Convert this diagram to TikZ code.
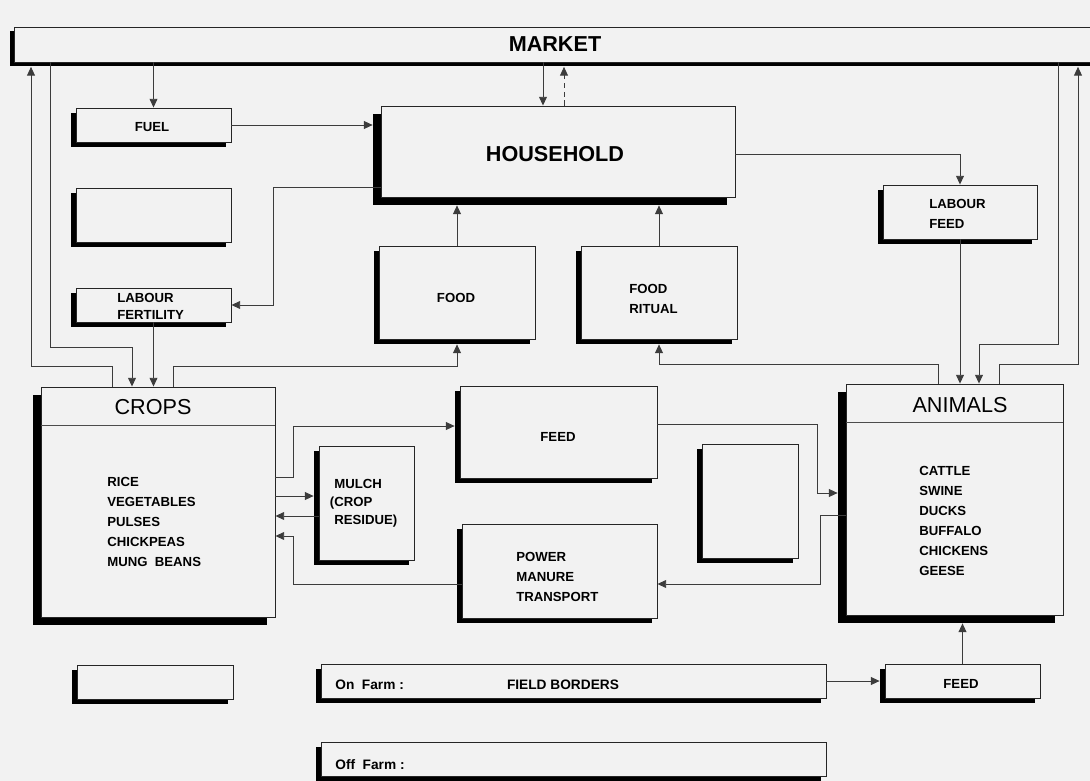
\documentclass[tikz,border=0pt]{standalone}
\usepackage{fontspec}
\setmainfont{Liberation Sans}
\usetikzlibrary{arrows.meta,calc,shadows}
\definecolor{bg}{RGB}{242,242,242}
\definecolor{ln}{RGB}{60,60,60}
\newcommand\mybx[6][2.8pt]{%
  \node[box=#1, minimum width={(#4-#2)*0.02cm}, minimum height={(#5-#3)*0.02cm}] (#6) at ({(#2+#4)/2},{(#3+#5)/2}) {};}
\begin{document}
\begin{tikzpicture}[x=0.02cm,y=-0.02cm,
  box/.style={draw=black!85, line width=0.5pt, fill=bg, inner sep=0pt,
    general shadow={fill=black, shadow xshift=-#1, shadow yshift=-#1}},
  box/.default=2.8pt,
  con/.style={draw=ln, line width=0.55pt, -{Triangle[length=5pt,width=4.5pt]}},
  sep/.style={draw=black!70, line width=0.5pt},
  lbl/.style={inner sep=0pt, align=left, font=\fontsize{7.5}{11.4}\selectfont\bfseries},
  lbl2/.style={inner sep=0pt, align=left, font=\fontsize{7.5}{9.6}\selectfont\bfseries},
  lbl3/.style={inner sep=0pt, align=left, font=\fontsize{7.5}{10.2}\selectfont\bfseries},
  big/.style={inner sep=0pt, font=\fontsize{12.3}{14}\selectfont\bfseries},
  head/.style={inner sep=0pt, font=\fontsize{12.3}{14}\selectfont},
  sm/.style={inner sep=0pt, font=\fontsize{7.8}{10}\selectfont\bfseries}]
\useasboundingbox (0,0) rectangle (1090,781);
\clip (0,0) rectangle (1090,781);
\fill[bg] (0,0) rectangle (1090,781);

% boxes
\mybx[2.5pt]{14}{27}{1098}{62}{market}
\mybx{76}{108}{231}{142}{fuel}
\mybx{76}{188}{231}{242}{blankA}
\mybx{76}{288}{231}{322}{labfert}
\mybx[4.5pt]{381}{106}{735}{197}{household}
\mybx{379}{246}{535}{339}{food}
\mybx{581}{246}{737}{339}{ritual}
\mybx{883}{185}{1037}{239}{labfeed}
\mybx[4.5pt]{41}{387}{275}{617}{crops}
\mybx{319}{446}{414}{560}{mulch}
\mybx{460}{386}{657}{478}{feed}
\mybx{462}{524}{657}{618}{power}
\mybx{702}{444}{798}{558}{blankB}
\mybx[4.5pt]{846}{384}{1063}{615}{animals}
\mybx{77}{665}{233}{699}{blankC}
\mybx{321}{664}{826}{698}{field}
\mybx{885}{664}{1040}{698}{feedB}
\mybx{321}{742}{826}{776}{offfarm}

% header separators
\draw[sep] ($(crops.north west)+(0,39)$) -- ($(crops.north east)+(0,39)$);
\draw[sep] ($(animals.north west)+(0,39)$) -- ($(animals.north east)+(0,39)$);

% texts
\node[big] (tmarket) at (555,44) {MARKET};
\node[lbl] (tfuel) at (152,127) {FUEL};
\node[lbl2, anchor=west] (tlabfert) at (117,306) {LABOUR\\FERTILITY};
\node[big] (thouse) at (555,154) {HOUSEHOLD};
\node[lbl] (tfood) at (456,298) {FOOD};
\node[lbl, anchor=west] (tritual) at (629,299) {FOOD\\RITUAL};
\node[lbl, anchor=west] (tlabfeed) at (929,214) {LABOUR\\FEED};
\node[head] (tcrops) at (153,407) {CROPS};
\node[lbl, anchor=west] (tcroplist) at (107,522) {RICE\\VEGETABLES\\PULSES\\CHICKPEAS\\MUNG\ \ BEANS};
\node[lbl3, anchor=west] (tmulch) at (334,503) {MULCH\\\llap{(}CROP\\RESIDUE)};
\node[lbl] (tfeed) at (558,437) {FEED};
\node[lbl, anchor=west] (tpower) at (516,577) {POWER\\MANURE\\TRANSPORT};
\node[head] (tanimals) at (960,405) {ANIMALS};
\node[lbl, anchor=west] (tanilist) at (919,521) {CATTLE\\SWINE\\DUCKS\\BUFFALO\\CHICKENS\\GEESE};
\node[sm, anchor=west] (ton) at (335,685) {On\ \ Farm :};
\node[sm] (tfb) at (563,685) {FIELD BORDERS};
\node[lbl] (tfeedB) at (961,684) {FEED};
\node[sm, anchor=west] (toff) at (335,765) {Off\ \ Farm :};

% helper coordinates
\coordinate (hA) at ($(household.north)+(-15,0)$);
\coordinate (hB) at ($(household.north)+(6,0)$);
\coordinate (k0) at (273,187);
\coordinate (k1) at (50,347);
\coordinate (k2) at (132,347);
\coordinate (k3) at (112,366);
\coordinate (k4) at (31,366);
\coordinate (k5) at (173,366);
\coordinate (k6) at (293,477);
\coordinate (k7) at (293,426);
\coordinate (k8) at (294,496);
\coordinate (k9) at (294,516);
\coordinate (k10) at (293,584);
\coordinate (k11) at (293,536);
\coordinate (k12) at (817,424);
\coordinate (k13) at (817,493);
\coordinate (k14) at (820,515);
\coordinate (k15) at (820,584);
\coordinate (k16) at (938,364);
\coordinate (k17) at (1058,344);
\coordinate (k18) at (979,344);
\coordinate (k19) at (999,364);
\coordinate (k20) at (1078,364);

% connectors
\draw[con] (market.south -| fuel.north) -- (fuel.north);
\draw[con, shorten >=4.5pt] (fuel.east) -- (fuel.east -| household.west);
\draw[con] (hA |- market.south) -- (hA);
\draw[con, dash pattern=on 3pt off 2pt, shorten >=2.5pt] (hB) -- (hB |- market.south);
\draw[con] (k0 -| household.west) -- (k0) |- (labfert.east);
\draw[con] ($(household.east)+(0,3)$) -| (labfeed.north);
\draw[con, shorten >=4.5pt] (food.north) -- (food.north |- household.south);
\draw[con, shorten >=4.5pt] (ritual.north) -- (ritual.north |- household.south);
\draw[con] (labfert.south) -- (labfert.south |- crops.north);
\draw[con] (k1 |- market.south) -- (k1) -- (k2) -- (k2 |- crops.north);
\draw[con, shorten >=2.5pt] (k3 |- crops.north) -- (k3) -- (k4) -- (k4 |- market.south);
\draw[con, shorten >=2.8pt] (k5 |- crops.north) -- (k5) -| (food.south);
\draw[con, shorten >=2.8pt] (k6 -| crops.east) -- (k6) -- (k7) -- (k7 -| feed.west);
\draw[con, shorten >=2.8pt] (k8 -| crops.east) -- (k8 -| mulch.west);
\draw[con] (k9 -| mulch.west) -- (k9 -| crops.east);
\draw[con] (k10 -| power.west) -- (k10) -- (k11) -- (k11 -| crops.east);
\draw[con, shorten >=4.5pt] (k12 -| feed.east) -- (k12) -- (k13) -- (k13 -| animals.west);
\draw[con] (k14 -| animals.west) -- (k14) -- (k15) -- (k15 -| power.east);
\draw[con, shorten >=2.8pt] (k16 |- animals.north) -- (k16) -| (ritual.south);
\draw[con] (labfeed.south) -- (labfeed.south |- animals.north);
\draw[con] (k17 |- market.south) -- (k17) -- (k18) -- (k18 |- animals.north);
\draw[con, shorten >=2.5pt] (k19 |- animals.north) -- (k19) -- (k20) -- (k20 |- market.south);
\draw[con, shorten >=4.5pt] (feedB.north) -- (feedB.north |- animals.south);
\draw[con, shorten >=2.8pt] (field.east) -- (field.east -| feedB.west);
\end{tikzpicture}
\end{document}
